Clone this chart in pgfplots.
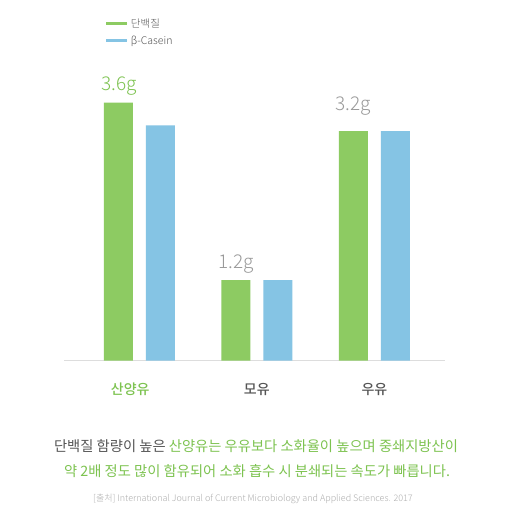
\documentclass[border=0pt]{standalone}
\usepackage{pgfplots}
\pgfplotsset{compat=1.18}
\usepackage{fontspec}
\setmainfont{Noto Sans CJK KR}
\newfontfamily\lightfont{Noto Sans CJK KR Light}
\newfontfamily\medfont{Noto Sans CJK KR Medium}
\definecolor{bgreen}{HTML}{8DCB62}
\definecolor{bblue}{HTML}{85C4E4}
\definecolor{tgreen}{HTML}{7DC350}
\definecolor{tgray}{HTML}{555555}
\definecolor{lgray}{HTML}{9A9A9A}
\definecolor{agray}{HTML}{DDDDDD}
\begin{document}
\begin{tikzpicture}
\path[use as bounding box,fill=white] (0pt,0pt) rectangle (510pt,-510pt);
\begin{axis}[
  at={(64pt,-360.5pt)}, anchor=south west,
  scale only axis, width=381pt, height=301pt,
  xmin=-0.64, xmax=2.6, ymin=0, ymax=4.2,
  axis x line=bottom, axis y line=none,
  x axis line style={-, draw=agray, line width=1.6pt},
  ybar, bar width=29pt,
  xtick={0,1,2},
  xticklabels={{\textcolor{tgreen}{산양유}\kern18pt},{모유},{우유}},
  major tick length=0pt,
  x tick label style={font=\medfont\fontsize{14}{16}\selectfont, text=tgray, yshift=-19pt},
  legend style={at={(0.107,1.143)}, anchor=north west, draw=none, fill=none,
    font=\lightfont\fontsize{10.5}{11}\selectfont, text=tgray, row sep=3pt, inner sep=0pt,
    nodes={inner sep=2pt}},
  legend cell align=left,
  clip=false,
]
\addplot[draw=none, fill=bgreen, bar shift=-21pt,
  legend image code/.code={\draw[bgreen, line width=3pt] (0pt,0pt) -- (21pt,0pt);}]
  coordinates {(0,3.6) (1,1.12) (2,3.2)};
\addlegendentry{단백질}
\addplot[draw=none, fill=bblue, bar shift=21pt,
  legend image code/.code={\draw[bblue, line width=3pt] (0pt,0pt) -- (21pt,0pt);}]
  coordinates {(0,3.28) (1,1.12) (2,3.2)};
\addlegendentry{β-Casein}
\node[text=tgreen, font=\lightfont\fontsize{19}{22}\selectfont, anchor=base] at (axis cs:0,3.6) [xshift=-20pt, yshift=12pt] {3.6g};
\node[text=lgray, font=\lightfont\fontsize{19}{22}\selectfont, anchor=base] at (axis cs:1,1.12) [xshift=-21pt, yshift=12pt] {1.2g};
\node[text=lgray, font=\lightfont\fontsize{19}{22}\selectfont, anchor=base] at (axis cs:2,3.2) [xshift=-21pt, yshift=21pt] {3.2g};
\end{axis}
\node[font=\fontsize{14.3}{16}\selectfont, anchor=base] at (256pt,-451pt)
  {\textcolor{tgray}{단백질 함량이 높은 }\textcolor{tgreen}{산양유는 우유보다 소화율이 높으며 중쇄지방산이}};
\node[font=\fontsize{14.3}{16}\selectfont, anchor=base, text=tgreen] at (257pt,-476pt)
  {약 2배 정도 많이 함유되어 소화 흡수 시 분쇄되는 속도가 빠릅니다.};
\node[font=\lightfont\fontsize{9}{10}\selectfont, anchor=base, text=lgray!80] at (253pt,-501pt)
  {[출처] International Journal of Current Microbiology and Applied Sciences. 2017};
\end{tikzpicture}
\end{document}
